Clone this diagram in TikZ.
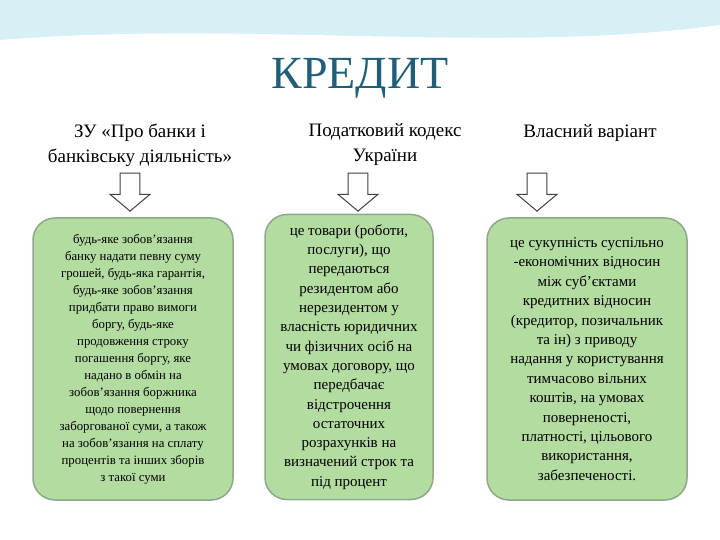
\documentclass[tikz,border=0pt]{standalone}
\usepackage{fontspec}
\setmainfont{Liberation Serif}
\definecolor{boxg}{HTML}{B3DCA0}
\definecolor{boxb}{HTML}{8FA88A}
\definecolor{ttl}{HTML}{1F5F7A}
\definecolor{sky}{HTML}{D6F0F6}
\usetikzlibrary{shapes.arrows}
\tikzset{
 box/.style={draw=boxb,line width=1.5pt,fill=boxg,rounded corners=22pt,minimum height=282pt,align=center,inner sep=4pt},
 head/.style={align=center,font=\fontsize{19}{25}\selectfont},
 darr/.style={draw=black!75,line width=1pt,fill=white,single arrow,shape border rotate=270,minimum height=38pt,minimum width=40pt,single arrow head extend=4pt,single arrow tip angle=100}
}
\begin{document}
\begin{tikzpicture}[x=1pt,y=-1pt]
\useasboundingbox (0,0) rectangle (720,540);
\fill[sky] (0,0) rectangle (720,40);
\fill[white] (0,40) .. controls (250,20) and (500,55) .. (720,25) -- (720,540) -- (0,540) -- cycle;
\node[text=ttl,font=\fontsize{46}{50}\selectfont] (t) at (360,78) {КРЕДИТ};
\node[head] (h1) at (140,145) {ЗУ «Про банки і\\банківську діяльність»};
\node[head] (h2) at (385,145) {Податковий кодекс\\України};
\node[head] (h3) at (590,133) {Власний варіант};
\node[darr] (a1) at (130,188) {};
\node[darr] (a2) at (358,188) {};
\node[darr] (a3) at (537,188) {};
\node[box,minimum width=200pt,font=\fontsize{12.8}{17}\selectfont] (b1) at (133,359) {будь-яке зобов'язання\\банку надати певну суму\\грошей, будь-яка гарантія,\\будь-яке зобов'язання\\придбати право вимоги\\боргу, будь-яке\\продовження строку\\погашення боргу, яке\\надано в обмін на\\зобов'язання боржника\\щодо повернення\\заборгованої суми, а також\\на зобов'язання на сплату\\процентів та інших зборів\\з такої суми};
\node[box,minimum width=168pt,minimum height=285pt,font=\fontsize{15}{19.3}\selectfont] (b2) at (349,357) {це товари (роботи,\\послуги), що\\передаються\\резидентом або\\нерезидентом у\\власність юридичних\\чи фізичних осіб на\\умовах договору, що\\передбачає\\відстрочення\\остаточних\\розрахунків на\\визначений строк та\\під процент};
\node[box,minimum width=200pt,font=\fontsize{15}{19.4}\selectfont] (b3) at (587,359) {це сукупність суспільно\\-економічних відносин\\між суб'єктами\\кредитних відносин\\(кредитор, позичальник\\та ін) з приводу\\надання у користування\\тимчасово вільних\\коштів, на умовах\\поверненості,\\платності, цільового\\використання,\\забезпеченості.};
\end{tikzpicture}
\end{document}
